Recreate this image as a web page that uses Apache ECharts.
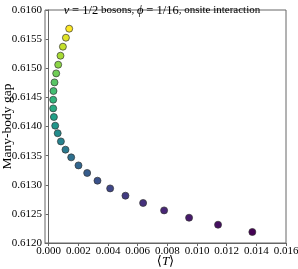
<!DOCTYPE html>
<html><head><meta charset="utf-8">
<script src="https://cdn.jsdelivr.net/npm/echarts@6/dist/echarts.min.js"></script>
<style>html,body{margin:0;padding:0;background:#fff}#c{width:298px;height:269px}</style>
</head><body><div id="c"></div>
<script>
// <T> values (x)
const tValues = [0.00138,0.00116,0.000957,0.000795,0.00064,0.000505,0.00039,0.000323,0.000303,0.000303,0.00035,0.000438,0.000606,0.000822,0.001132,0.001516,0.002008,0.002594,0.003288,0.004143,0.005174,0.006366,0.007781,0.009465,0.011419,0.01373];
// many-body gap values (y)
const gapValues = [0.615679,0.615524,0.61537,0.615215,0.615061,0.614912,0.614757,0.614609,0.61446,0.614311,0.614163,0.614014,0.613885,0.613744,0.613602,0.61347,0.613332,0.613202,0.61307,0.612937,0.612812,0.612687,0.61256,0.612434,0.612314,0.612189];
const xTicks = [0,0.002,0.004,0.006,0.008,0.010,0.012,0.014,0.016];
const viridis = ['#440154','#482878','#3e4989','#31688e','#26828e','#1f9e89','#35b779','#6ece58','#b5de2b','#fde725'];

const data = tValues.map((t,i)=>[t,gapValues[i]]);
const serif = '"Liberation Serif","DejaVu Serif",serif';
const chart = echarts.init(document.getElementById('c'));
chart.setOption({
  animation:false,
  title:{
    text:'{i|ν} {m|= 1/2} bosons, {i|ϕ} {m|= 1/16}, onsite interaction',
    left:157, top:-1, textAlign:'center',
    textStyle:{fontFamily:serif,fontSize:11,fontWeight:'normal',color:'#000',
      rich:{i:{fontFamily:serif,fontStyle:'italic',fontSize:12.5,color:'#000'},m:{fontFamily:serif,fontSize:12.5,color:'#000'}}}
  },
  grid:{left:45,right:12,top:10,bottom:26,containLabel:false,outerBoundsMode:'none',show:true,borderColor:'#666',borderWidth:1,backgroundColor:'transparent'},
  xAxis:{type:'value',min:-0.00025,max:0.016,
    name:'{a|⟨}{i|T}{a|⟩}',nameLocation:'middle',nameGap:12,nameMoveOverlap:false,
    nameTextStyle:{fontFamily:serif,fontSize:13,color:'#000',verticalAlign:'top',rich:{a:{fontFamily:serif,fontSize:13,color:'#000'},i:{fontFamily:serif,fontStyle:'italic',fontSize:13,color:'#000'}}},
    axisLine:{show:true,lineStyle:{color:'#666'}},
    axisTick:{show:true,length:3,customValues:xTicks,lineStyle:{color:'#666'}},
    axisLabel:{customValues:xTicks,fontFamily:serif,fontSize:11,color:'#000',margin:3,formatter:v=>v.toFixed(3)},
    splitLine:{show:false}},
  yAxis:{type:'value',min:0.6120,max:0.6160,interval:0.0005,
    name:'Many-body gap',nameLocation:'middle',nameGap:31,nameMoveOverlap:false,
    nameTextStyle:{fontFamily:serif,fontSize:13.5,color:'#000',verticalAlign:'bottom'},
    axisLine:{show:true,lineStyle:{color:'#666'}},
    axisTick:{show:true,length:3,lineStyle:{color:'#666'}},
    axisLabel:{fontFamily:serif,fontSize:11,color:'#000',margin:3,formatter:v=>v.toFixed(4)},
    splitLine:{show:false}},
  visualMap:{show:false,type:'continuous',dimension:1,min:0.612189,max:0.615679,inRange:{color:viridis}},
  series:[{type:'scatter',data:data,symbolSize:7,itemStyle:{borderColor:'#333',borderWidth:0.7,opacity:1}}]
});
</script></body></html>
